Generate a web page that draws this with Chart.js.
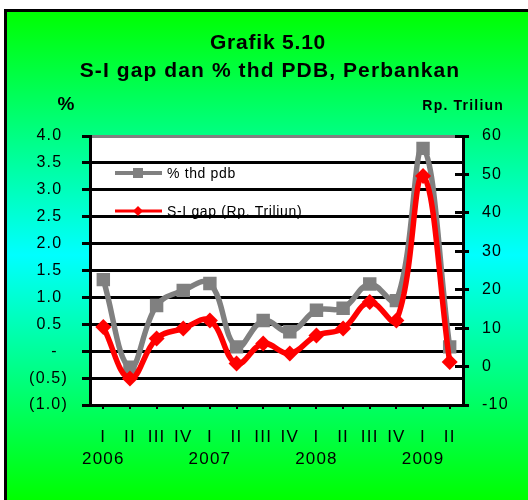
<!DOCTYPE html>
<html>
<head>
<meta charset="utf-8">
<script src="https://cdn.jsdelivr.net/npm/chart.js@4.4.0/dist/chart.umd.min.js"></script>
<style>
  html, body { margin: 0; padding: 0; background: #fff; }
  canvas { display: block; }
</style>
</head>
<body>
<canvas id="line-chart" width="528" height="500"></canvas>
<script>
// x axis: quarter and year
var quarters = ['I', 'II', 'III', 'IV', 'I', 'II', 'III', 'IV', 'I', 'II', 'III', 'IV', 'I', 'II'];
var years = ['2006', '', '', '', '2007', '', '', '', '2008', '', '', '', '2009', ''];

// % thd pdb (left axis)
var pctPdb = [1.33, -0.30, 0.85, 1.13, 1.26, 0.08, 0.57, 0.36, 0.76, 0.80, 1.25, 0.94, 3.77, 0.08];
// S-I gap, Rp. Triliun (right axis)
var siGap = [10.3, -3.1, 7.3, 9.9, 12.0, 0.8, 6.0, 3.4, 8.1, 9.9, 16.8, 12.0, 49.6, 1.2];

// tick labels
var leftTicks = [-1.0, -0.5, 0, 0.5, 1.0, 1.5, 2.0, 2.5, 3.0, 3.5, 4.0];
var rightTicks = [-10, 0, 10, 20, 30, 40, 50, 60];

var FONT = 'Arial, "Liberation Sans", sans-serif';
var SPACING = '1.2px';

Chart.defaults.font.family = FONT;
Chart.defaults.color = '#000';

// excel style number format: 1.0 / - / (0.5)
function fmtPct(v) {
    if (Math.abs(v) < 1e-9) return '-\u2007';
    if (v < 0) return '(' + Math.abs(v).toFixed(1) + ')';
    return v.toFixed(1) + ' ';
}

function alignPx(p, w) {
    return Math.round(p - w / 2) + w / 2;
}

// background, titles, legend
var decor = {
    id: 'decor',
    beforeUpdate: function(chart) {
        chart.ctx.letterSpacing = SPACING;
    },
    beforeDraw: function(chart) {
        var ctx = chart.ctx, a = chart.chartArea, W = chart.width, H = chart.height;
        ctx.save();
        ctx.fillStyle = '#fff';
        ctx.fillRect(0, 0, W, H);
        var g = ctx.createLinearGradient(0, 10, 0, H);
        g.addColorStop(0, '#00ff00');
        g.addColorStop(0.5, '#00ffff');
        g.addColorStop(1, '#00ff00');
        ctx.fillStyle = g;
        ctx.fillRect(5, 10, W, H);
        ctx.lineWidth = 3;
        ctx.strokeStyle = '#000';
        ctx.strokeRect(5.5, 10.5, W + 20, H + 20);
        ctx.fillStyle = '#fff';
        ctx.fillRect(a.left, a.top, a.right - a.left, a.bottom - a.top);
        ctx.restore();
        ctx.letterSpacing = SPACING;
    },
    afterDraw: function(chart) {
        var ctx = chart.ctx, a = chart.chartArea;
        ctx.save();

        // inner part of the right axis ticks
        var yR = chart.scales.yR;
        ctx.strokeStyle = '#000';
        ctx.lineWidth = 3;
        yR.ticks.forEach(function(t) {
            var y = alignPx(yR.getPixelForValue(t.value), 3);
            ctx.beginPath();
            ctx.moveTo(a.right - 8, y);
            ctx.lineTo(a.right, y);
            ctx.stroke();
        });

        // titles
        ctx.fillStyle = '#000';
        ctx.textBaseline = 'alphabetic';
        ctx.textAlign = 'center';
        ctx.font = 'bold 21px ' + FONT;
        ctx.letterSpacing = '0.8px';
        ctx.fillText('Grafik 5.10', 268, 49);
        ctx.letterSpacing = '1.1px';
        ctx.fillText('S-I gap dan % thd PDB, Perbankan', 270, 77);

        ctx.font = 'bold 19px ' + FONT;
        ctx.letterSpacing = '0px';
        ctx.fillText('%', 66, 110);

        ctx.textAlign = 'right';
        ctx.font = 'bold 14px ' + FONT;
        ctx.letterSpacing = '1.2px';
        ctx.fillText('Rp. Triliun', 504, 110);

        // legend inside the plot
        var rows = [a.top + 37, a.top + 75];
        var legendOrder = [0, 1];
        legendOrder.forEach(function(i, r) {
            var ds = chart.data.datasets[i];
            var y = rows[r];
            ctx.strokeStyle = ds.borderColor;
            ctx.lineWidth = i === 0 ? 4 : 3;
            ctx.beginPath();
            ctx.moveTo(a.left + 25, y);
            ctx.lineTo(a.left + 72, y);
            ctx.stroke();
            ctx.fillStyle = ds.backgroundColor;
            var cx = a.left + 48;
            if (ds.pointStyle === 'rect') {
                ctx.fillRect(cx - 5, y - 5, 10, 10);
            } else {
                ctx.beginPath();
                ctx.moveTo(cx, y - 5);
                ctx.lineTo(cx + 5, y);
                ctx.lineTo(cx, y + 5);
                ctx.lineTo(cx - 5, y);
                ctx.closePath();
                ctx.fill();
            }
            ctx.fillStyle = '#000';
            ctx.textAlign = 'left';
            ctx.font = '14px ' + FONT;
            ctx.letterSpacing = '0.65px';
            ctx.fillText(ds.label, a.left + 77, y + 5);
        });

        ctx.restore();
        ctx.letterSpacing = SPACING;
    }
};

new Chart(document.getElementById('line-chart'), {
    type: 'line',
    data: {
        labels: quarters.map(function(q, i) { return [q, years[i]]; }),
        datasets: [
            {
                label: '% thd pdb',
                data: pctPdb,
                yAxisID: 'yL',
                borderColor: '#808080',
                backgroundColor: '#808080',
                borderWidth: 5.5,
                pointStyle: 'rect',
                pointRadius: 9.5,
                pointBorderWidth: 0,
                tension: 0.4,
                fill: false,
                order: 1
            },
            {
                label: 'S-I gap (Rp. Triliun)',
                data: siGap,
                yAxisID: 'yR',
                borderColor: '#ff0000',
                backgroundColor: '#ff0000',
                borderWidth: 5.5,
                pointStyle: 'rectRot',
                pointRadius: 8,
                pointBorderWidth: 0,
                tension: 0.4,
                fill: false,
                order: 0
            }
        ]
    },
    options: {
        responsive: false,
        animation: false,
        devicePixelRatio: 1,
        layout: { padding: { top: 136, left: 0, right: 0, bottom: 0 } },
        plugins: {
            legend: { display: false },
            tooltip: { enabled: false },
            title: { display: false }
        },
        scales: {
            x: {
                offset: true,
                grid: { drawOnChartArea: false, drawTicks: true, tickLength: 4, color: '#000', lineWidth: 2, offset: false },
                border: { color: '#000', width: 3 },
                ticks: { font: { size: 17, lineHeight: 1.25 }, padding: 18, maxRotation: 0, autoSkip: false, color: '#000' },
                afterFit: function(s) { s.height = 95; }
            },
            yL: {
                position: 'left',
                min: leftTicks[0],
                max: leftTicks[leftTicks.length - 1],
                ticks: {
                    stepSize: leftTicks[1] - leftTicks[0],
                    font: { size: 16 },
                    padding: 14,
                    color: '#000',
                    callback: function(v) { return fmtPct(v); }
                },
                grid: {
                    color: function(c) { return c.tick && c.tick.value === leftTicks[leftTicks.length - 1] ? '#808080' : '#000'; },
                    tickColor: '#000',
                    lineWidth: 3,
                    tickLength: 8
                },
                border: { color: '#000', width: 3 },
                afterFit: function(s) { s.width = 90; }
            },
            yR: {
                position: 'right',
                min: rightTicks[0],
                max: rightTicks[rightTicks.length - 1],
                ticks: { stepSize: rightTicks[1] - rightTicks[0], font: { size: 16 }, padding: 13, color: '#000' },
                grid: { drawOnChartArea: false, tickLength: 6, color: '#000', lineWidth: 3 },
                border: { color: '#000', width: 3 },
                afterFit: function(s) { s.width = 65; }
            }
        }
    },
    plugins: [decor]
});
</script>
</body>
</html>
